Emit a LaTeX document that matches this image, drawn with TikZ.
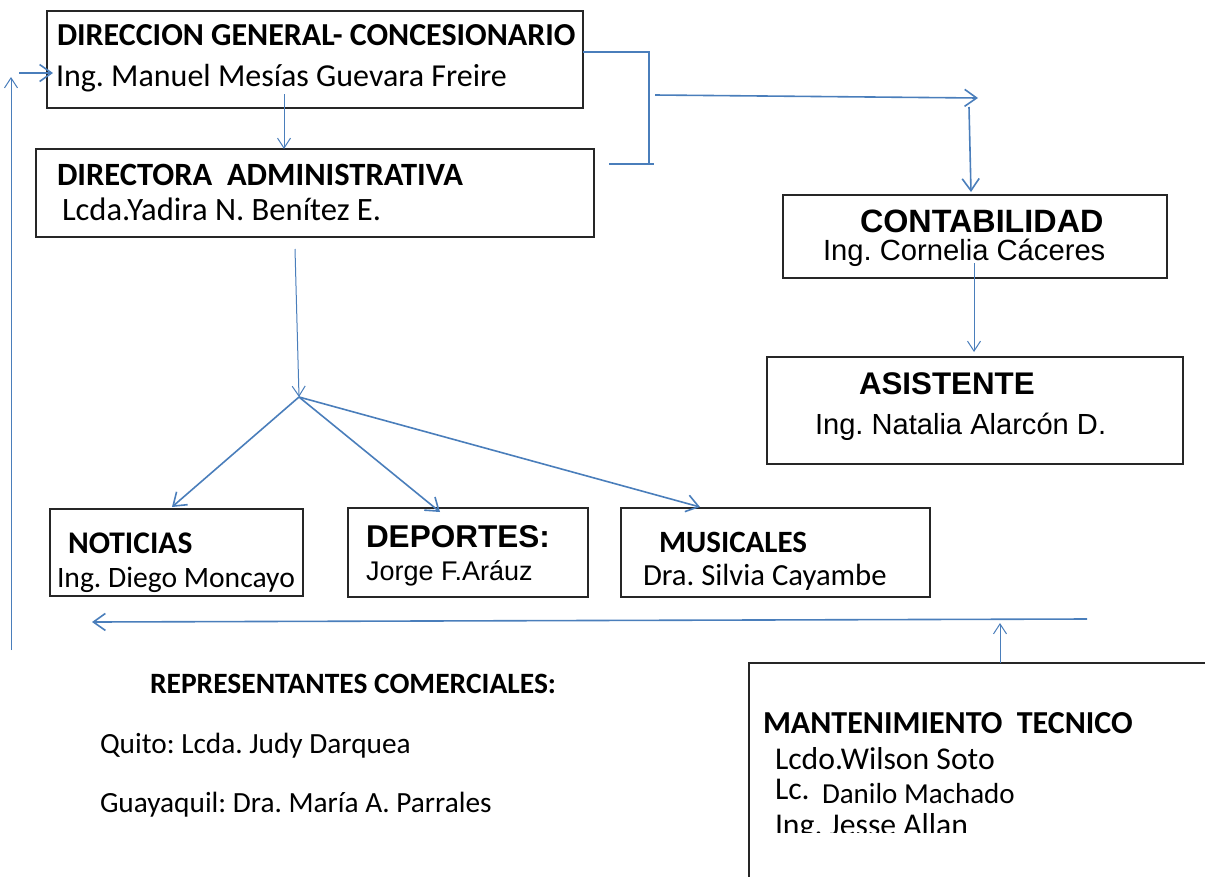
\documentclass[tikz,border=0pt]{standalone}
\usepackage{fontspec}
\setmainfont{Carlito}
\newfontfamily\arialf{Liberation Sans}
\usetikzlibrary{arrows.meta}
\definecolor{lnblue}{HTML}{4A7EBB}
\newcommand\fsz[1]{\fontsize{#1}{#1}\selectfont}
\frenchspacing
\begin{document}
\begin{tikzpicture}[x=1pt,y=-1pt,
  box/.style={draw=black!85,line width=1.4pt,anchor=north west,inner sep=0pt,outer sep=0pt},
  lbl/.style={anchor=base west,inner sep=0pt,outer sep=0pt,text=black,font=\frenchspacing},
  conA/.style={draw=lnblue,line width=1.6pt},
  conB/.style={draw=lnblue,line width=1pt},
  bigtip/.style={-{Straight Barb[length=12pt,width=17pt]}},
  smalltip/.style={-{Straight Barb[length=10pt,width=13pt]}}
]
\useasboundingbox (0,0) rectangle (1205,876);
\clip (0,0) rectangle (1205,876);

% boxes
\node[box,minimum width=536pt,minimum height=97pt] (dg) at (47,11) {};
\node[box,minimum width=558pt,minimum height=88pt] (da) at (36,149) {};
\node[box,minimum width=384pt,minimum height=83pt] (cont) at (783,195) {};
\node[box,minimum width=416pt,minimum height=107pt] (asis) at (767,357) {};
\node[box,minimum width=253pt,minimum height=87pt] (noti) at (50,509) {};
\node[box,minimum width=240pt,minimum height=89pt] (depo) at (348,508) {};
\node[box,minimum width=309pt,minimum height=89pt] (musi) at (621,508) {};
\node[box,minimum width=500pt,minimum height=300pt] (mant) at (749,663) {};

% texts
\node[lbl] (dgA) at (57,45) {\fsz{32}\bfseries DIRECCION GENERAL- CONCESIONARIO};
\node[lbl] (dgB) at (56,86) {\fsz{32}Ing. Manuel Mesías Guevara Freire};
\node[lbl] (daA) at (57,185) {\fsz{32.5}\bfseries DIRECTORA~~ADMINISTRATIVA};
\node[lbl] (daB) at (62,220) {\fsz{32.6}Lcda.Yadira N. Benítez E.};
\node[lbl] (coA) at (860,232) {\arialf\fsz{32.3}\bfseries CONTABILIDAD};
\node[lbl] (coB) at (823,260) {\arialf\fsz{29.2}Ing. Cornelia Cáceres};
\node[lbl] (asA) at (859,394) {\arialf\fsz{31.3}\bfseries ASISTENTE};
\node[lbl] (asB) at (815,434) {\arialf\fsz{29.1}Ing. Natalia Alarcón D.};
\node[lbl] (noA) at (68,553) {\fsz{31.5}\bfseries NOTICIAS};
\node[lbl] (noB) at (57,587) {\fsz{29.6}Ing. Diego Moncayo};
\node[lbl] (deA) at (366,547) {\arialf\fsz{31.5}\bfseries DEPORTES:};
\node[lbl] (deB) at (366,580) {\arialf\fsz{27}Jorge F.Aráuz};
\node[lbl] (muA) at (659,552) {\fsz{31}\bfseries MUSICALES};
\node[lbl] (muB) at (643,585) {\fsz{30.7}Dra. Silvia Cayambe};
\node[lbl] (maA) at (763,733) {\fsz{32}\bfseries MANTENIMIENTO~~TECNICO};
\node[lbl] (maB) at (775,769) {\fsz{31.7}Lcdo.Wilson Soto};
\node[lbl] (maC) at (775,799) {\fsz{31.7}Lc.};
\node[lbl] (maD) at (822,803) {\fsz{29}Danilo Machado};
\begin{scope}
\clip (740,600) rectangle (1205,832);
\node[lbl] (maE) at (775,835) {\fsz{31.7}Ing. Jesse Allan};
\end{scope}
\node[lbl] (reA) at (150,693) {\fsz{29.5}\bfseries REPRESENTANTES COMERCIALES:};
\node[lbl] (reB) at (100,753) {\fsz{29.3}Quito: Lcda. Judy Darquea};
\node[lbl] (reC) at (100,812) {\fsz{29.3}Guayaquil: Dra. María A. Parrales};

% connector points
\coordinate (lbot) at (11,650);
\coordinate (ltop) at (11,77);
\coordinate (ain) at (19,73);
\coordinate (aend) at (53,73);
\coordinate (dgd) at (284,94);
\coordinate (brA) at (583,52);
\coordinate (brB) at (649,52);
\coordinate (brC) at (649,164);
\coordinate (brD) at (609,164);
\coordinate (brE) at (654,164);
\coordinate (raS) at (655,95);
\coordinate (raE) at (978,98);
\coordinate (dnS) at (969,107);
\coordinate (dnE) at (971,192);
\coordinate (caS) at (974,263);
\coordinate (caE) at (974,352);
\coordinate (daS) at (295,249);
\coordinate (jn) at (299,397);
\coordinate (tNo) at (172,507);
\coordinate (tDe) at (440,512);
\coordinate (tMu) at (700,507);
\coordinate (lgS) at (1087,619);
\coordinate (lgE) at (92,622);
\coordinate (upE) at (1000,623);

% connectors
\draw[conB,smalltip] (lbot) -- (ltop);
\draw[conA,bigtip] (ain) -- (aend);
\draw[conB,smalltip] (dgd) -- (dgd |- da.north);
\draw[conA] (brA) -- (brB) -- (brC);
\draw[conA] (brD) -- (brE);
\draw[conA,bigtip] (raS) -- (raE);
\draw[conA,bigtip] (dnS) -- (dnE);
\draw[conB,smalltip] (caS) -- (caE);
\draw[conB,smalltip] (daS) -- (jn);
\draw[conA,bigtip] (jn) -- (tNo);
\draw[conA,bigtip] (jn) -- (tDe);
\draw[conA,bigtip] (jn) -- (tMu);
\draw[conA,bigtip] (lgS) -- (lgE);
\draw[conB,smalltip] (upE |- mant.north) -- (upE);
\end{tikzpicture}
\end{document}
